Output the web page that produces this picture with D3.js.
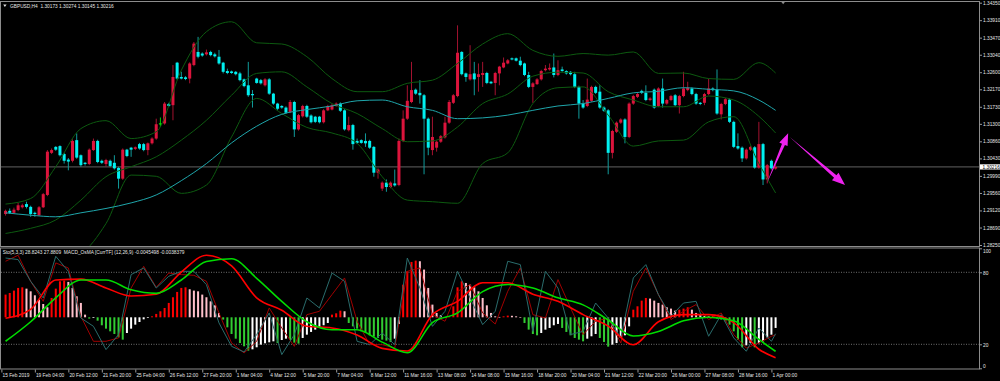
<!DOCTYPE html>
<html><head><meta charset="utf-8">
<script src="https://cdn.jsdelivr.net/npm/d3@7"></script>
<style>body{margin:0;background:#000;}svg{display:block;}text{font-family:"Liberation Sans",Arial,sans-serif;}</style>
</head><body><svg id="c" width="1000" height="381"></svg>
<script>
const symbolTitle = "GBPUSD,H4  1.30173 1.30274 1.30145 1.30216";
const indTitle = "Sto(5,3,3) 28.8243 27.8809  MACD_OsMA [CurrTF] (12,26,9) -0.0045498 -0.0038379";
const timeLabels = ["15 Feb 2019","19 Feb 04:00","20 Feb 12:00","21 Feb 20:00","25 Feb 04:00","26 Feb 12:00","27 Feb 20:00","1 Mar 04:00","4 Mar 12:00","5 Mar 20:00","7 Mar 04:00","8 Mar 12:00","11 Mar 16:00","13 Mar 08:00","14 Mar 08:00","15 Mar 16:00","18 Mar 20:00","20 Mar 04:00","21 Mar 12:00","22 Mar 20:00","26 Mar 00:00","27 Mar 08:00","28 Mar 16:00","1 Apr 00:00"];
const timeLabelBars = [-1,7,15,23,31,39,47,55,63,71,79,87,95,103,111,119,127,135,143,151,159,167,175,183];
const priceTicks = [1.34350,1.33910,1.33470,1.33040,1.32600,1.32170,1.31730,1.31300,1.30860,1.30430,1.29990,1.29560,1.29120,1.28690,1.28250];
const stochLevels = [100,80,20,0];
const lastPrice = 1.30216;

const open = [
1.2903,1.2911,1.2906,1.2913,1.2920,1.2928,1.2921,1.2906,1.2900,1.2920,
1.2951,1.3057,1.3072,1.3074,1.3054,1.3040,1.3037,1.3089,1.3051,1.3032,
1.3029,1.3064,1.3087,1.3037,1.3029,1.3037,1.3032,1.3019,1.2992,1.3065,
1.3070,1.3067,1.3079,1.3079,1.3064,1.3081,1.3093,1.3130,1.3131,1.3180,
1.3177,1.3284,1.3248,1.3247,1.3244,1.3278,1.3311,1.3307,1.3305,1.3311,
1.3305,1.3299,1.3284,1.3263,1.3262,1.3261,1.3257,1.3242,1.3227,1.3205,
1.3244,1.3240,1.3227,1.3242,1.3206,1.3181,1.3175,1.3171,1.3160,1.3185,
1.3116,1.3149,1.3175,1.3151,1.3148,1.3148,1.3134,1.3164,1.3166,1.3175,
1.3181,1.3164,1.3114,1.3127,1.3087,1.3089,1.3087,1.3087,1.3072,1.3007,
1.2967,1.2982,1.2971,1.2980,1.2976,1.3087,1.3143,1.3185,1.3216,1.3208,
1.3202,1.3143,1.3064,1.3070,1.3085,1.3096,1.3133,1.3183,1.3200,1.3311,
1.3257,1.3242,1.3257,1.3248,1.3253,1.3258,1.3236,1.3233,1.3257,1.3272,
1.3282,1.3295,1.3295,1.3289,1.3282,1.3253,1.3223,1.3230,1.3242,1.3265,
1.3267,1.3272,1.3253,1.3267,1.3263,1.3261,1.3255,1.3223,1.3181,1.3175,
1.3188,1.3223,1.3211,1.3171,1.3164,1.3057,1.3110,1.3133,1.3141,1.3097,
1.3181,1.3198,1.3213,1.3208,1.3190,1.3216,1.3175,1.3219,1.3181,1.3190,
1.3202,1.3177,1.3200,1.3215,1.3219,1.3205,1.3183,1.3183,1.3205,1.3219,
1.3216,1.3154,1.3180,1.3191,1.3135,1.3074,1.3070,1.3043,1.3065,1.3071,
1.3020,1.3079,1.2990,1.3037,1.30173];
const high = [
1.2914,1.2917,1.2919,1.2931,1.2929,1.2934,1.2924,1.2909,1.2923,1.2956,
1.3064,1.3068,1.3074,1.3076,1.3057,1.3044,1.3091,1.3106,1.3053,1.3034,
1.3068,1.3093,1.3090,1.3040,1.3042,1.3040,1.3051,1.3022,1.3068,1.3067,
1.3072,1.3073,1.3082,1.3082,1.3083,1.3096,1.3143,1.3146,1.3185,1.3183,
1.3278,1.3286,1.3261,1.3250,1.3285,1.3336,1.3349,1.3310,1.3317,1.3314,
1.3309,1.3316,1.3286,1.3269,1.3264,1.3263,1.3261,1.3244,1.3286,1.3215,
1.3246,1.3243,1.3245,1.3245,1.3208,1.3183,1.3177,1.3174,1.3190,1.3188,
1.3155,1.3178,1.3178,1.3154,1.3150,1.3150,1.3167,1.3178,1.3180,1.3184,
1.3184,1.3167,1.3148,1.3130,1.3093,1.3091,1.3106,1.3090,1.3074,1.3018,
1.2985,1.2990,1.2985,1.3015,1.3093,1.3164,1.3227,1.3286,1.3219,1.3240,
1.3205,1.3146,1.3148,1.3088,1.3102,1.3148,1.3190,1.3205,1.3378,1.3313,
1.3259,1.3328,1.3286,1.3282,1.3286,1.3261,1.3238,1.3261,1.3276,1.3297,
1.3293,1.3297,1.3297,1.3299,1.3284,1.3261,1.3235,1.3245,1.3266,1.3278,
1.3282,1.3307,1.3290,1.3274,1.3265,1.3263,1.3261,1.3226,1.3190,1.3244,
1.3226,1.3226,1.3227,1.3174,1.3167,1.3115,1.3136,1.3144,1.3144,1.3184,
1.3203,1.3208,1.3216,1.3227,1.3197,1.3219,1.3222,1.3244,1.3193,1.3203,
1.3205,1.3203,1.3261,1.3236,1.3222,1.3208,1.3185,1.3208,1.3244,1.3222,
1.3267,1.3183,1.3195,1.3194,1.3138,1.3106,1.3073,1.3068,1.3075,1.3074,
1.3135,1.3082,1.3029,1.3040,1.30274];
const low = [
1.2899,1.2903,1.2903,1.2910,1.2917,1.2917,1.2896,1.2896,1.2898,1.2918,
1.2948,1.3054,1.3062,1.3048,1.3030,1.3013,1.3033,1.3042,1.3022,1.3025,
1.3026,1.3062,1.3031,1.3029,1.3022,1.3021,1.3015,1.2967,1.2989,1.3046,
1.3047,1.3064,1.3065,1.3061,1.3051,1.3078,1.3090,1.3122,1.3128,1.3172,
1.3139,1.3241,1.3242,1.3240,1.3232,1.3275,1.3295,1.3299,1.3302,1.3300,
1.3297,1.3279,1.3257,1.3255,1.3256,1.3252,1.3237,1.3222,1.3198,1.3171,
1.3231,1.3229,1.3224,1.3203,1.3178,1.3165,1.3168,1.3155,1.3157,1.3097,
1.3113,1.3146,1.3145,1.3131,1.3132,1.3131,1.3131,1.3162,1.3164,1.3173,
1.3160,1.3113,1.3111,1.3065,1.3079,1.3080,1.3072,1.3067,1.2997,1.2992,
1.2961,1.2959,1.2968,1.2972,1.2973,1.3084,1.3140,1.3182,1.3203,1.3181,
1.3003,1.3051,1.3051,1.3060,1.3082,1.3093,1.3130,1.3180,1.3197,1.3252,
1.3236,1.3239,1.3202,1.3211,1.3223,1.3230,1.3230,1.3202,1.3227,1.3270,
1.3280,1.3290,1.3287,1.3275,1.3250,1.3220,1.3183,1.3228,1.3239,1.3262,
1.3264,1.3247,1.3250,1.3261,1.3254,1.3252,1.3220,1.3143,1.3168,1.3172,
1.3185,1.3205,1.3168,1.3160,1.3003,1.3043,1.3107,1.3130,1.3081,1.3094,
1.3178,1.3195,1.3205,1.3187,1.3187,1.3168,1.3172,1.3171,1.3178,1.3187,
1.3174,1.3156,1.3197,1.3212,1.3202,1.3178,1.3177,1.3177,1.3202,1.3212,
1.3153,1.3141,1.3177,1.3132,1.3069,1.3065,1.3034,1.3040,1.3062,1.3017,
1.3017,1.2976,1.2980,1.3015,1.30145];
const close = [
1.2911,1.2906,1.2914,1.2925,1.2925,1.2921,1.2903,1.2903,1.2920,1.2953,
1.3060,1.3064,1.3065,1.3051,1.3037,1.3035,1.3087,1.3045,1.3026,1.3029,
1.3065,1.3087,1.3034,1.3032,1.3039,1.3024,1.3018,1.2992,1.3065,1.3049,
1.3065,1.3071,1.3068,1.3064,1.3081,1.3093,1.3129,1.3130,1.3181,1.3175,
1.3248,1.3244,1.3244,1.3243,1.3282,1.3332,1.3299,1.3302,1.3310,1.3303,
1.3300,1.3282,1.3261,1.3258,1.3258,1.3255,1.3240,1.3225,1.3202,1.3202,
1.3233,1.3232,1.3242,1.3206,1.3181,1.3168,1.3171,1.3158,1.3185,1.3116,
1.3152,1.3175,1.3148,1.3134,1.3135,1.3134,1.3164,1.3175,1.3177,1.3181,
1.3163,1.3116,1.3127,1.3079,1.3082,1.3082,1.3081,1.3070,1.3007,1.3015,
1.2982,1.2971,1.2982,1.2975,1.3087,1.3143,1.3188,1.3215,1.3206,1.3202,
1.3143,1.3070,1.3097,1.3085,1.3099,1.3133,1.3185,1.3202,1.3309,1.3255,
1.3248,1.3255,1.3242,1.3255,1.3258,1.3233,1.3232,1.3258,1.3274,1.3284,
1.3290,1.3292,1.3289,1.3278,1.3253,1.3223,1.3232,1.3242,1.3263,1.3269,
1.3271,1.3253,1.3265,1.3263,1.3257,1.3255,1.3223,1.3181,1.3171,1.3191,
1.3223,1.3208,1.3171,1.3163,1.3057,1.3112,1.3133,1.3141,1.3097,1.3181,
1.3200,1.3205,1.3208,1.3190,1.3194,1.3171,1.3219,1.3181,1.3190,1.3200,
1.3177,1.3200,1.3219,1.3221,1.3205,1.3181,1.3180,1.3205,1.3219,1.3215,
1.3156,1.3180,1.3192,1.3135,1.3072,1.3068,1.3043,1.3065,1.3072,1.3020,
1.3079,1.2990,1.3026,1.3018,1.30216];

const bandBars = [0,6,12,18,24,30,36,42,48,54,60,66,72,78,84,90,96,102,108,114,120,126,132,138,144,150,156,162,168,174,180,184];
const bbUpper = [1.2928,1.2942,1.3022,1.3118,1.3138,1.3093,1.3110,1.3265,1.3362,1.3387,1.3334,1.3331,1.3299,1.3244,1.3211,1.3211,1.3232,1.3240,1.3282,1.3331,1.3357,1.3315,1.3300,1.3307,1.3303,1.3311,1.3257,1.3258,1.3244,1.3242,1.3284,1.3258];
const bbMiddle = [1.2854,1.2867,1.2888,1.2938,1.2997,1.3022,1.3047,1.3089,1.3139,1.3202,1.3257,1.3261,1.3223,1.3181,1.3156,1.3118,1.3085,1.3087,1.3122,1.3181,1.3205,1.3250,1.3260,1.3258,1.3211,1.3190,1.3173,1.3173,1.3200,1.3190,1.3149,1.3107];
const bbLower = [1.2762,1.2779,1.2787,1.2804,1.2879,1.3001,1.2998,1.2955,1.2976,1.3097,1.3194,1.3156,1.3121,1.3107,1.3081,1.2997,1.2938,1.2934,1.2930,1.3030,1.3057,1.3181,1.3221,1.3223,1.3152,1.3074,1.3087,1.3089,1.3135,1.3148,1.3030,1.2956];
const maLine = [1.2906,1.2900,1.2896,1.2906,1.2917,1.2931,1.2951,1.2987,1.3030,1.3082,1.3124,1.3154,1.3166,1.3175,1.3188,1.3190,1.3173,1.3164,1.3143,1.3145,1.3152,1.3164,1.3175,1.3181,1.3194,1.3208,1.3212,1.3221,1.3217,1.3213,1.3190,1.3164];

const stochBars = [0,3,6,9,12,15,18,21,24,27,30,33,36,39,42,45,48,51,54,57,60,63,66,69,72,75,78,81,84,87,90,93,96,99,102,105,108,111,114,117,120,123,126,129,132,135,138,141,144,147,150,153,156,159,162,165,168,171,174,177,180,183,184];
const stochMain = [91.9,90.6,72.5,58.6,93.3,80.8,41.9,35,15.6,28.1,78.1,83.6,66.9,76.7,80.8,80.8,69.7,37.8,18.3,13.6,28.1,46.1,11.4,28.1,58.6,50.3,79.4,72.5,22.5,19.7,29.4,19.7,91.9,66.9,35,47.5,80.8,58.6,36.4,47.5,89.2,86.4,30.8,80.8,66.9,28.1,30.8,54.4,41.9,25.3,75.3,86.4,61.4,43.3,54.4,55.8,26.7,44.7,25.3,14.2,33.6,22.5,28.8];
const stochSignal = [89.2,94.2,72.5,55.8,87.8,83.6,43.3,22.5,22.5,25.3,66.9,85,67.5,79.4,78.1,77.5,72.5,46.1,21.1,12.8,22.5,50.3,33.6,18.3,44.7,47.5,61.4,75.3,39.2,19.7,19.7,16.9,80.8,83.6,44.7,39.2,64.2,69.7,46.1,36.9,64.2,83.6,44.7,41.9,73.9,50.3,28.1,39.2,41.9,21.1,64.2,83.6,61.4,40.6,47.5,53.1,40.6,46.1,28.1,16.9,21.1,26.7,27.9];

const macdBars = bandBars;
const macdMain = [-0.0001,0.0009,0.0042,0.0043,0.0033,0.0024,0.0026,0.0051,0.0070,0.0058,0.0022,0.0008,-0.0010,-0.0012,-0.0020,-0.0035,-0.0038,0.0003,0.0018,0.0039,0.0039,0.0026,0.0018,0.0003,-0.0010,-0.0031,-0.0005,0.0003,0.0003,-0.0006,-0.0036,-0.00455];
const macdSignal = [-0.0027,-0.0005,0.0022,0.0042,0.0042,0.0031,0.0027,0.0042,0.0063,0.0066,0.0044,0.0018,-0.0005,-0.0014,-0.0014,-0.0028,-0.0040,-0.0006,0.0005,0.0029,0.0037,0.0033,0.0022,0.0014,-0.0003,-0.0021,-0.0016,-0.0004,0.0000,-0.0004,-0.0025,-0.00384];
const osma = [
0.00256,0.00274,0.00301,0.00331,0.00338,0.00323,0.00293,0.00248,0.00199,0.00150,
0.00113,0.00218,0.00323,0.00406,0.00414,0.00399,0.00331,0.00237,0.00162,0.00030,
-0.00015,-0.00008,-0.00038,-0.00090,-0.00128,-0.00158,-0.00188,-0.00226,-0.00252,-0.00177,
-0.00128,-0.00083,-0.00053,-0.00023,-0.00008,0.00011,0.00038,0.00068,0.00105,0.00162,
0.00226,0.00286,0.00331,0.00338,0.00316,0.00301,0.00293,0.00256,0.00226,0.00180,
0.00135,0.00049,-0.00026,-0.00113,-0.00188,-0.00241,-0.00290,-0.00327,-0.00376,-0.00361,
-0.00338,-0.00308,-0.00293,-0.00282,-0.00271,-0.00290,-0.00256,-0.00241,-0.00256,-0.00286,
-0.00297,-0.00233,-0.00196,-0.00165,-0.00139,-0.00113,-0.00090,-0.00064,0.00030,0.00045,
0.00075,0.00068,-0.00064,-0.00102,-0.00128,-0.00158,-0.00177,-0.00203,-0.00218,-0.00233,
-0.00252,-0.00263,-0.00278,-0.00241,-0.00075,0.00368,0.00519,0.00624,0.00639,0.00632,
0.00538,0.00331,0.00143,0.00049,0.00023,-0.00008,0.00011,0.00124,0.00338,0.00406,
0.00387,0.00368,0.00338,0.00293,0.00218,0.00135,0.00049,0.00011,0.00004,0.00011,
0.00019,0.00017,0.00011,0.00001,-0.00064,-0.00139,-0.00188,-0.00203,-0.00177,-0.00139,
-0.00120,-0.00090,-0.00075,-0.00120,-0.00165,-0.00203,-0.00233,-0.00252,-0.00271,-0.00241,
-0.00214,-0.00188,-0.00233,-0.00278,-0.00331,-0.00308,-0.00290,-0.00233,-0.00203,-0.00102,
0.00086,0.00124,0.00188,0.00218,0.00211,0.00188,0.00162,0.00143,0.00113,0.00098,
0.00075,0.00086,0.00098,0.00113,0.00086,0.00049,0.00030,0.00015,0.00011,0.00019,
-0.00015,-0.00026,-0.00045,-0.00083,-0.00158,-0.00252,-0.00338,-0.00316,-0.00290,-0.00338,
-0.00293,-0.00271,-0.00226,-0.00196,-0.00120];

const arrows = [
  {b1:181.9, p1:1.29803, b2:187.0, p2:1.31062, head:12, wing:4.5, neck:1.6},
  {b1:187.3, p1:1.30976, b2:200.6, p2:1.29760, head:13, wing:5, neck:1.8}
];

// ---------- drawing ----------
const svg = d3.select("#c");
const FS = 4.8;
svg.append("rect").attr("width",1000).attr("height",381).attr("fill","#000");

const x = d3.scaleLinear().domain([0,184]).range([5.56,775.6]);
const y = d3.scaleLinear().domain([1.28250,1.34350]).range([245,2.7]);
const sy = d3.scaleLinear().domain([0,100]).range([368.3,248.3]);
const my = d3.scaleLinear().domain([0,0.01]).range([317.3,228.6]);

const defs = svg.append("defs");
defs.append("clipPath").attr("id","cm").append("rect").attr("x",1).attr("y",2).attr("width",978).attr("height",244.5);
defs.append("clipPath").attr("id","ci").append("rect").attr("x",1).attr("y",248.5).attr("width",978).attr("height",120.3);

const gm = svg.append("g").attr("clip-path","url(#cm)");
const gi = svg.append("g").attr("clip-path","url(#ci)");

// current price line
gm.append("line").attr("x1",1).attr("x2",979).attr("y1",y(lastPrice)).attr("y2",y(lastPrice))
  .attr("stroke","#4e4e4e").attr("stroke-width",1.2);

// candles
const candles = open.map((o,i)=>({i,o,h:high[i],l:low[i],c:close[i]}));
const cg = gm.append("g");
cg.selectAll("line.w").data(candles).join("line")
  .attr("x1",d=>x(d.i)).attr("x2",d=>x(d.i))
  .attr("y1",d=>y(d.h)).attr("y2",d=>y(d.l))
  .attr("stroke",d=>d.c>d.o?"#a3122f":(d.c<d.o?"#109c9c":"#00d000")).attr("stroke-width",1);
cg.selectAll("rect.b").data(candles.filter(d=>d.c!==d.o)).join("rect")
  .attr("x",d=>x(d.i)-1.5).attr("width",3)
  .attr("y",d=>y(Math.max(d.o,d.c)))
  .attr("height",d=>Math.max(1,y(Math.min(d.o,d.c))-y(Math.max(d.o,d.c))))
  .attr("fill",d=>d.c>d.o?"#dc143c":"#00f0f0");
cg.selectAll("line.d").data(candles.filter(d=>d.c===d.o)).join("line")
  .attr("x1",d=>x(d.i)-1.5).attr("x2",d=>x(d.i)+1.5).attr("y1",d=>y(d.o)).attr("y2",d=>y(d.o))
  .attr("stroke","#00e000").attr("stroke-width",1.2);

// bands and MA
const smooth = d3.line().x(d=>x(d[0])).y(d=>y(d[1])).curve(d3.curveMonotoneX);
[bbUpper,bbMiddle,bbLower].forEach(arr=>{
  gm.append("path").attr("d",smooth(bandBars.map((b,k)=>[b,arr[k]])))
    .attr("fill","none").attr("stroke","#0d5a10").attr("stroke-width",1);
});
gm.append("path").attr("d",smooth(bandBars.map((b,k)=>[b,maLine[k]])))
  .attr("fill","none").attr("stroke","#1fa6ab").attr("stroke-width",1);

// arrows
arrows.forEach(a=>{
  const x1=x(a.b1), y1=y(a.p1), x2=x(a.b2), y2=y(a.p2);
  const dx=x2-x1, dy=y2-y1, len=Math.hypot(dx,dy), ux=dx/len, uy=dy/len, nx=-uy, ny=ux;
  const bx=x2-ux*a.head, by=y2-uy*a.head;
  const pts=[[x1,y1],[bx+nx*a.neck,by+ny*a.neck],[bx+nx*a.wing,by+ny*a.wing],[x2,y2],[bx-nx*a.wing,by-ny*a.wing],[bx-nx*a.neck,by-ny*a.neck]];
  gm.append("polygon").attr("points",pts.map(p=>p.join(",")).join(" ")).attr("fill","#ee22ee");
});

// indicator: levels
[80,20].forEach(v=>{
  gi.append("line").attr("x1",1).attr("x2",979).attr("y1",sy(v)).attr("y2",sy(v))
    .attr("stroke","#8a8a8a").attr("stroke-width",0.8).attr("stroke-dasharray","1,1.5");
});
// histogram
const hist = osma.map((v,i)=>{
  const p = i>0?osma[i-1]:v;
  let col;
  if(v>=0) col = v>=p?"#ff0000":"#ffc0cb"; else col = v<=p?"#32cd32":"#ffffff";
  return {i,v,col};
});
gi.selectAll("rect.h").data(hist).join("rect")
  .attr("x",d=>x(d.i)-1).attr("width",2)
  .attr("y",d=>Math.min(my(0),my(d.v))).attr("height",d=>Math.max(0.6,Math.abs(my(d.v)-my(0))))
  .attr("fill",d=>d.col);
// stochastic
const sline = d3.line().x(d=>x(d[0])).y(d=>sy(d[1]));
gi.append("path").attr("d",sline(stochBars.map((b,k)=>[b,stochSignal[k]])))
  .attr("fill","none").attr("stroke","#a00000").attr("stroke-width",1);
gi.append("path").attr("d",sline(stochBars.map((b,k)=>[b,stochMain[k]])))
  .attr("fill","none").attr("stroke","#2a6c6c").attr("stroke-width",1);
// MACD lines
const mline = d3.line().x(d=>x(d[0])).y(d=>my(d[1])).curve(d3.curveMonotoneX);
gi.append("path").attr("d",mline(macdBars.map((b,k)=>[b,macdMain[k]])))
  .attr("fill","none").attr("stroke","#ff0000").attr("stroke-width",1.6);
gi.append("path").attr("d",mline(macdBars.map((b,k)=>[b,macdSignal[k]])))
  .attr("fill","none").attr("stroke","#00dc00").attr("stroke-width",1.6);

// borders
svg.append("rect").attr("x",0.5).attr("y",1.5).attr("width",979).attr("height",245)
  .attr("fill","none").attr("stroke","#8c8c8c").attr("stroke-width",1);
svg.append("rect").attr("x",0.5).attr("y",248).attr("width",979).attr("height",121)
  .attr("fill","none").attr("stroke","#8c8c8c").attr("stroke-width",1);

// price axis
const pa = svg.append("g").attr("transform","translate(979.5,0)")
  .call(d3.axisRight(y).tickValues(priceTicks).tickFormat(d3.format(".5f")).tickSize(2.5).tickPadding(1));
pa.select(".domain").remove();
pa.selectAll("line").attr("stroke","#9a9a9a");
pa.selectAll("text").attr("fill","#e6e6e6").attr("font-size",FS).attr("font-family","Liberation Sans");

// current price box
svg.append("rect").attr("x",980).attr("y",y(lastPrice)-2.6).attr("width",20).attr("height",5.2).attr("fill","#ffffff");
svg.append("text").attr("x",982.5).attr("y",y(lastPrice)+1.7).attr("font-size",FS).attr("fill","#000").text(d3.format(".5f")(lastPrice));

// indicator axis
const ia = svg.append("g").attr("transform","translate(979.5,0)")
  .call(d3.axisRight(sy).tickValues(stochLevels).tickSize(2.5).tickPadding(1));
ia.select(".domain").remove();
ia.selectAll("line").attr("stroke","#9a9a9a");
ia.selectAll("text").attr("fill","#e6e6e6").attr("font-size",FS)
  .attr("dy",d=>d===100?"0.95em":(d===0?"-0.2em":"0.42em"));

// time axis
const ta = svg.append("g").attr("transform","translate(0,369.5)")
  .call(d3.axisBottom(x).tickValues(timeLabelBars).tickFormat((d,i)=>timeLabels[i]).tickSize(3).tickPadding(1));
ta.select(".domain").remove();
ta.selectAll("line").attr("stroke","#9a9a9a");
ta.selectAll("text").attr("fill","#e6e6e6").attr("font-size",FS).attr("text-anchor","start").attr("x",0.6);

// titles
svg.append("path").attr("d","M3.2,4.6 L6.6,4.6 L4.9,7 Z").attr("fill","#e0e0e0");
svg.append("text").attr("x",10).attr("y",7.7).attr("font-size",FS).attr("fill","#e6e6e6").attr("xml:space","preserve").text(symbolTitle);
svg.append("text").attr("x",2.7).attr("y",254).attr("font-size",FS).attr("fill","#e6e6e6").attr("xml:space","preserve").text(indTitle);
// chart shift marker
const sx = x(185.8);
svg.append("path").attr("d",`M${sx-2.5},1 L${sx+2.5},1 L${sx},4.2 Z`).attr("fill","#8c8c8c");
</script></body></html>
